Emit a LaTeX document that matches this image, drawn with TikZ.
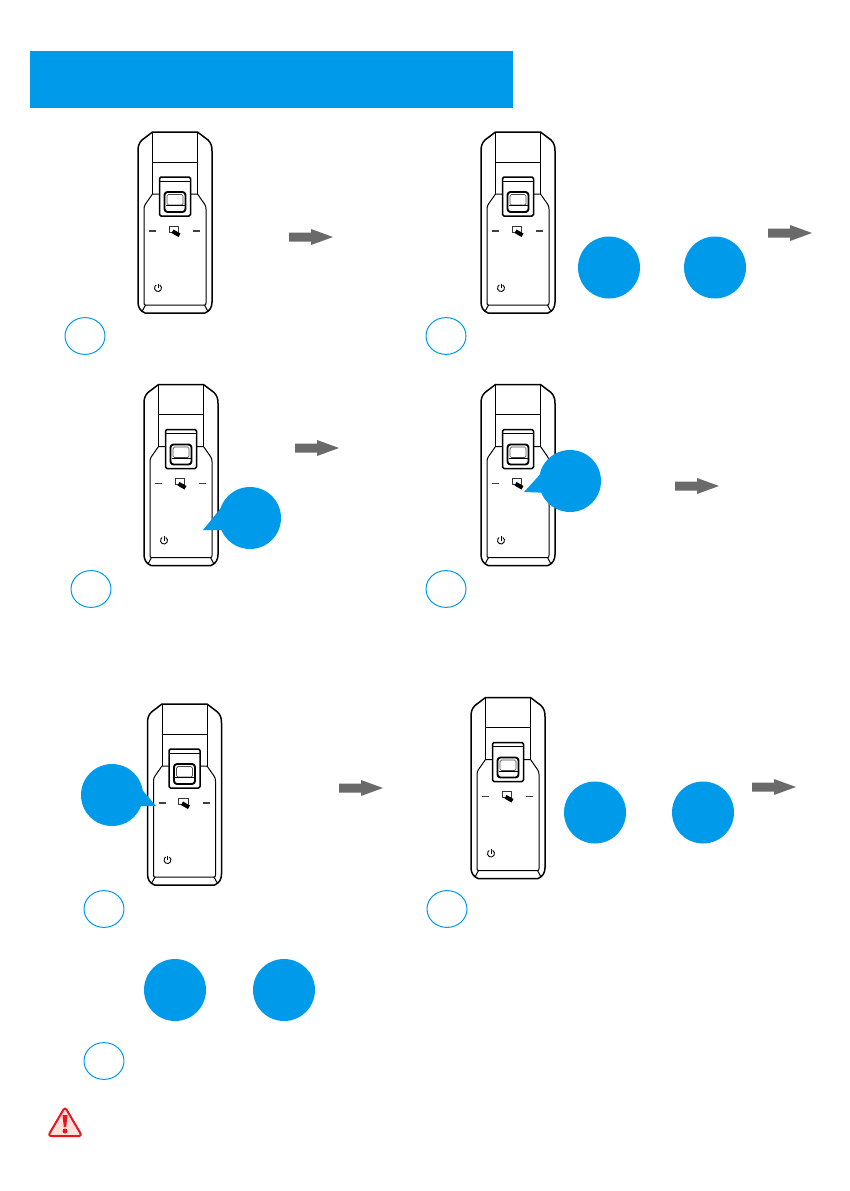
\documentclass[tikz,border=0pt]{standalone}
\usetikzlibrary{calc}
\definecolor{brand}{HTML}{009AEA}
\definecolor{arrowgrey}{HTML}{6A6A6A}
\definecolor{warnred}{HTML}{E8141E}
\definecolor{warnpink}{HTML}{FCE0DC}
\tikzset{
  every picture/.style={line join=round},
  devline/.style={draw=black,line width=1pt},
  devheavy/.style={draw=black,line width=1.5pt},
  badge/.style={circle,draw=brand,line width=1pt,minimum width=40pt,minimum height=38pt,inner sep=0pt,xscale=1,yscale=0.92},
  bluedot/.style={circle,fill=brand,minimum size=62pt,inner sep=0pt},
  device/.pic={
    % outer body
    \path[devheavy] (-22.5,0) -- (22.5,0) -- (33,8) .. controls (36,11) and (37,14) .. (37,19)
      -- (37,170) .. controls (37,175) and (35,179) .. (30,181) -- (-30,181)
      .. controls (-35,179) and (-37,175) .. (-37,170) -- (-37,19)
      .. controls (-37,14) and (-36,11) .. (-33,8) -- cycle;
    % upper part
    \path[devline] (-22.5,0) -- (-22.5,30) -- (22.5,30) -- (22.5,0);
    \path[devline] (-22.5,30) -- (-22.5,62) (22.5,30) -- (22.5,62);
    % panel
    \path[devline] (-16,62) -- (-22.5,62) -- (-29.5,72) .. controls (-30.5,73.5) and (-31,75) .. (-31,77)
      -- (-31,171) .. controls (-31,172.5) and (-30.5,173) .. (-29.5,173) -- (29.5,173)
      .. controls (30.5,173) and (31,172.5) .. (31,171) -- (31,77)
      .. controls (31,75) and (30.5,73.5) .. (29.5,72) -- (22.5,62) -- (16,62);
    \path[devline] (-29.5,173) -- (-33,179.5) (29.5,173) -- (33,179.5);
    % clip
    \path[fill=white,devheavy,rounded corners=1.5pt] (-15.5,45) rectangle (15.5,84);
    \path[devline] (-15.5,49) -- (15.5,49);
    % button
    \path[fill=white,draw=black,line width=1.9pt,rounded corners=3pt] (-10.5,60) rectangle (10.5,80);
    \path[draw=black!70,line width=0.7pt,rounded corners=1.5pt] (-8,62.5) rectangle (8,73);
    \path[draw=black,line width=1pt] (-9.5,73.5) -- (9.5,73.5);
    % dashes
    \path[draw=black!75,line width=1.1pt] (-26,99) -- (-19,99) (18,99) -- (25,99);
    % card icon
    \path[draw=black!80,line width=0.6pt] (-6,94) rectangle (3.5,100);
    \path[fill=black] (-1.5,97.5) -- (5.5,101.5) -- (3.5,105) -- (-3.5,101) -- cycle;
    % power icon
    \path[draw=black,line width=0.9pt] (-15.25,153.0) arc[start angle=-60,end angle=240,radius=3.5];
    \path[draw=black,line width=0.9pt] (-17,151.5) -- (-17,156);
  },
  greyarrow/.pic={
    \path[fill=arrowgrey] (-22,-4.5) -- (0,-4.5) -- (0,-8) -- (22,0) -- (0,8) -- (0,4.5) -- (-22,4.5) -- cycle;
  }
}
\begin{document}
\begin{tikzpicture}[x=1pt,y=-1pt]
\useasboundingbox (0,0) rectangle (850,1191);
\path[fill=white] (0,0) rectangle (850,1191);
\path[fill=brand] (30,51) rectangle (513,108);
% devices
\pic at (175,132) {device};
\pic at (518,132) {device};
\pic at (181,384.5) {device};
\pic at (518,384.5) {device};
\pic at (184.5,704) {device};
\pic at (508,697.5) {device};
% arrows
\pic at (311,237) {greyarrow};
\pic at (790,233) {greyarrow};
\pic at (317,448) {greyarrow};
\pic at (697,486) {greyarrow};
\pic at (361,788) {greyarrow};
\pic at (774,787) {greyarrow};
% badges
\node[badge] (b1) at (85,336) {};
\node[badge] (b2) at (446,336) {};
\node[badge] (b3) at (91,589) {};
\node[badge] (b4) at (446,589) {};
\node[badge] (b5) at (104,909) {};
\node[badge] (b6) at (447,909) {};
\node[badge] (b7) at (104,1061) {};
% blue dots
\node[bluedot] (d1) at (609,267.5) {};
\node[bluedot] (d2) at (715,267.5) {};
\node[bluedot] (d3) at (250,518) {};
\node[bluedot] (d4) at (570,481) {};
\node[bluedot] (d5) at (112,795) {};
\node[bluedot] (d6) at (595,812.5) {};
\node[bluedot] (d7) at (703,812.5) {};
\node[bluedot] (d8) at (175,990) {};
\node[bluedot] (d9) at (284,990) {};
% callout tails
\path[fill=brand] (203,530) -- (225,503) -- (232,530) -- cycle;
\path[fill=brand] (524,492) -- (546,468) -- (552,493) -- cycle;
\path[fill=brand] (156,806) -- (132,778) -- (128,806) -- cycle;
% warning sign
\path[fill=warnpink,draw=warnred,line width=2pt,rounded corners=3pt] (65,1107) -- (82,1136) -- (48,1136) -- cycle;
\path[fill=warnred] (62.5,1115) -- (67.5,1115) -- (66.2,1127) -- (63.8,1127) -- cycle;
\path[fill=warnred] (65,1131) circle (2.5);
\end{tikzpicture}
\end{document}
